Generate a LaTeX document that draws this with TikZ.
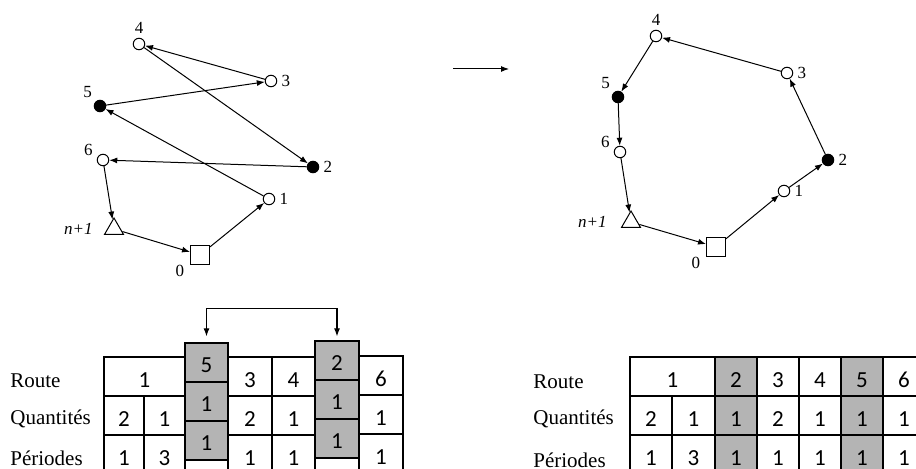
\documentclass[tikz,border=0pt]{standalone}
\usepackage{fontspec}
\setmainfont{Liberation Serif}
\newfontfamily\cellfont{Carlito}
\usetikzlibrary{arrows.meta}
\usetikzlibrary{shapes.geometric}

\definecolor{cellgray}{RGB}{180,180,180}

\tikzset{
  client/.style={circle, draw, fill=white, minimum size=5.75pt, inner sep=0pt, line width=0.5pt},
  served/.style={client, fill=black},
  depot/.style={rectangle, draw, fill=white, minimum size=9.5pt, inner sep=0pt, line width=0.5pt},
  sink/.style={regular polygon, regular polygon sides=3, draw, fill=white, minimum size=11pt, inner sep=0pt, line width=0.5pt},
  lbl/.style={font=\fontsize{8.5}{10}\selectfont, inner sep=1pt},
  route/.style={-{Latex[length=4pt,width=3pt]}, line width=0.5pt},
  swaparrow/.style={{Latex[length=4pt,width=3pt]}-{Latex[length=4pt,width=3pt]}, line width=0.6pt},
  cell/.style={rectangle, draw, line width=0.6pt, inner sep=0pt, minimum height=19.5pt, text height=11pt, text depth=0pt, font=\cellfont\fontsize{11.5}{13}\selectfont},
  swap/.style={cell, fill=cellgray, text height=9.8pt},
  rowname/.style={anchor=west, inner sep=0pt, font=\fontsize{10.5}{12}\selectfont}
}

\begin{document}
\begin{tikzpicture}[x=0.5pt, y=0.5pt, label distance=1pt, every label/.style={lbl}]
\useasboundingbox (0,0) rectangle (916,-469);
\clip (0,0) rectangle (916,-469);

% Left tour (before)
\node[client, label=90:4] (a4) at (139,-44) {};
\node[client, label=0:3] (a3) at (271,-81) {};
\node[served, label=135:5] (a5) at (100,-106) {};
\node[client, label=165:6] (a6) at (103,-160) {};
\node[served, label=0:2] (a2) at (313,-167) {};
\node[client, label=0:1] (a1) at (269,-199) {};
\node[sink, label={[label distance=6pt]180:\textit{n+1}}] (an) at (114,-229) {};
\node[depot, label={[label distance=2pt]210:0}] (a0) at (200,-255) {};

\draw[route] (a0) -- (a1);
\draw[route] (a1) -- (a5);
\draw[route] (a5) -- (a3);
\draw[route] (a3) -- (a4);
\draw[route] (a4) -- (a2);
\draw[route] (a2) -- (a6);
\draw[route] (a6) -- (an);
\draw[route] (an) -- (a0);

% Arrow between the two tours
\coordinate (m1) at (453,-69);
\coordinate (m2) at (509,-69);
\draw[route] (m1) -- (m2);

% Right tour (after)
\node[client, label=90:4] (b4) at (656,-36) {};
\node[client, label=0:3] (b3) at (787,-73) {};
\node[served, label=135:5] (b5) at (618,-97) {};
\node[client, label=165:6] (b6) at (620,-152) {};
\node[served, label=0:2] (b2) at (828,-160) {};
\node[client, label=0:1] (b1) at (784,-191) {};
\node[sink, label={[label distance=7.5pt]180:\textit{n+1}}] (bn) at (631,-222) {};
\node[depot, label={[label distance=2pt]210:0}] (b0) at (716,-247) {};

\draw[route] (b0) -- (b1);
\draw[route] (b1) -- (b2);
\draw[route] (b2) -- (b3);
\draw[route] (b3) -- (b4);
\draw[route] (b4) -- (b5);
\draw[route] (b5) -- (b6);
\draw[route] (b6) -- (bn);
\draw[route] (bn) -- (b0);

% Left table
\node[rowname] (lroute) at (10,-381) {Route};
\node[rowname] (lqty) at (10,-419) {Quantités};
\node[rowname] (lper) at (10,-458) {Périodes};

\node[cell, minimum width=40.5pt] (lr1) at (144.5,-376.5) {1};
\node[cell, minimum width=20pt] (lq1) at (124,-415.5) {2};
\node[cell, minimum width=20.5pt] (lq2) at (164.5,-415.5) {1};
\node[cell, minimum width=20pt] (lp1) at (124,-454.5) {1};
\node[cell, minimum width=20.5pt] (lp2) at (164.5,-454.5) {3};
\node[cell, minimum width=22pt] (lr3) at (250,-376.5) {3};
\node[cell, minimum width=21.5pt] (lr4) at (293.5,-376.5) {4};
\node[cell, minimum width=22pt] (lq3) at (250,-415.5) {2};
\node[cell, minimum width=21.5pt] (lq4) at (293.5,-415.5) {1};
\node[cell, minimum width=22pt] (lp3) at (250,-454.5) {1};
\node[cell, minimum width=21.5pt] (lp4) at (293.5,-454.5) {1};
\node[cell, minimum width=22pt] (lr6) at (381,-375.5) {6};
\node[cell, minimum width=22pt] (lq6) at (381,-414.5) {1};
\node[cell, minimum width=22pt] (lp6) at (381,-453.5) {1};

% lifted columns
\node[swap, minimum width=21.5pt] (lg5) at (206.5,-362.5) {5};
\node[swap, minimum width=21.5pt] (lg5q) at (206.5,-401.5) {1};
\node[swap, minimum width=21.5pt] (lg5p) at (206.5,-440.5) {1};
\node[cell, minimum width=21.5pt] (lg5e) at (206.5,-479.5) {};
\node[swap, minimum width=22pt] (lg2) at (337,-360.5) {2};
\node[swap, minimum width=22pt] (lg2q) at (337,-399.5) {1};
\node[swap, minimum width=22pt] (lg2p) at (337,-438.5) {1};
\node[cell, minimum width=22pt] (lg2e) at (337,-477.5) {};

\draw[swaparrow] ([yshift=3pt]lg5.north) -- ++(0,14pt) -| ([yshift=2pt]lg2.north);

% Right table
\node[rowname] (rroute) at (533,-382) {Route};
\node[rowname] (rqty) at (533,-419) {Quantités};
\node[rowname] (rper) at (533,-460) {Périodes};

\node[cell, minimum width=42.5pt] (rr1) at (672.5,-376.5) {1};
\node[swap, minimum width=21pt, text height=11pt] (rr2) at (736,-376.5) {2};
\node[cell, minimum width=21pt] (rr3) at (778,-376.5) {3};
\node[cell, minimum width=21pt] (rr4) at (820,-376.5) {4};
\node[swap, minimum width=21pt, text height=11pt] (rr5) at (862,-376.5) {5};
\node[cell, minimum width=21pt] (rr6) at (904,-376.5) {6};

\node[cell, minimum width=21pt] (rq1) at (651,-415.5) {2};
\node[cell, minimum width=21.5pt] (rq2) at (693.5,-415.5) {1};
\node[swap, minimum width=21pt, text height=11pt] (rq3) at (736,-415.5) {1};
\node[cell, minimum width=21pt] (rq4) at (778,-415.5) {2};
\node[cell, minimum width=21pt] (rq5) at (820,-415.5) {1};
\node[swap, minimum width=21pt, text height=11pt] (rq6) at (862,-415.5) {1};
\node[cell, minimum width=21pt] (rq7) at (904,-415.5) {1};

\node[cell, minimum width=21pt] (rp1) at (651,-454.5) {1};
\node[cell, minimum width=21.5pt] (rp2) at (693.5,-454.5) {3};
\node[swap, minimum width=21pt, text height=11pt] (rp3) at (736,-454.5) {1};
\node[cell, minimum width=21pt] (rp4) at (778,-454.5) {1};
\node[cell, minimum width=21pt] (rp5) at (820,-454.5) {1};
\node[swap, minimum width=21pt, text height=11pt] (rp6) at (862,-454.5) {1};
\node[cell, minimum width=21pt] (rp7) at (904,-454.5) {1};
\end{tikzpicture}
\end{document}
